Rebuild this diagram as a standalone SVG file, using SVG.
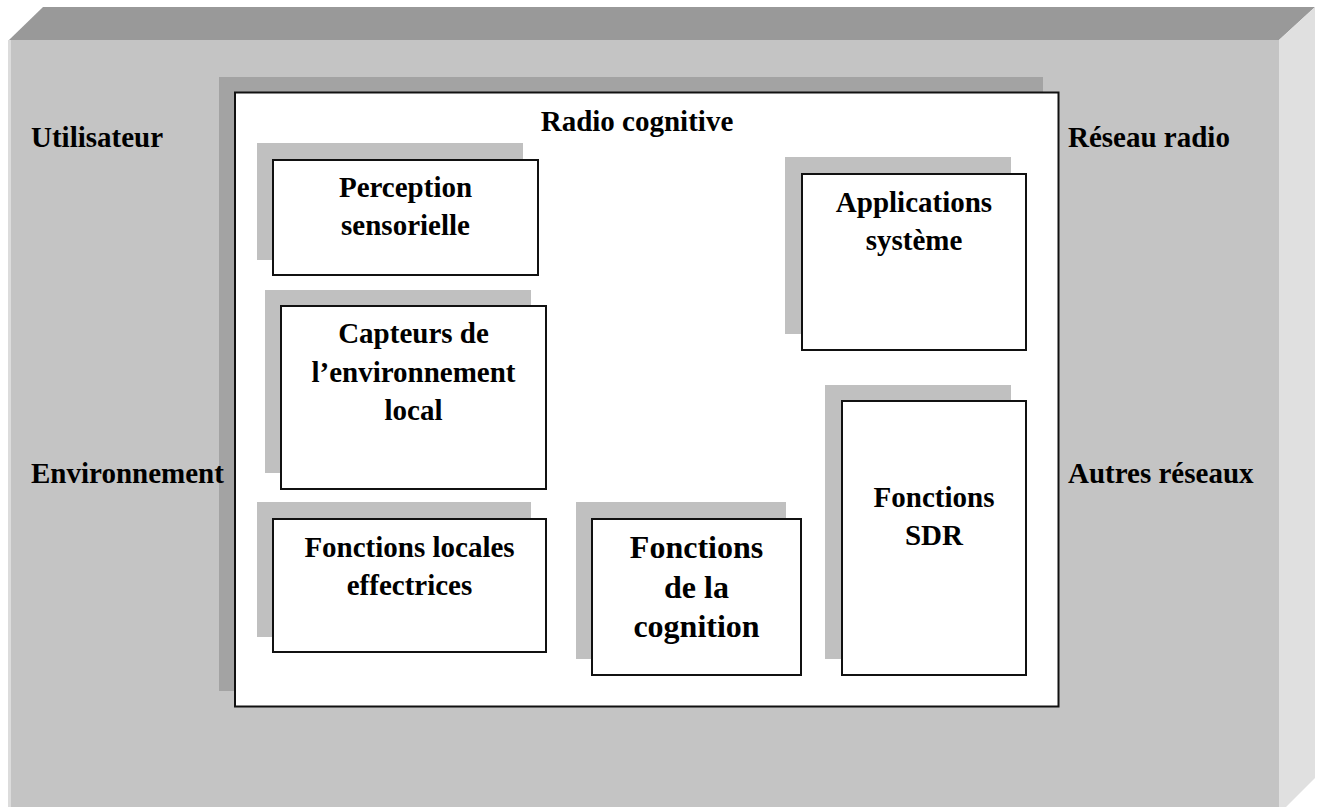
<svg xmlns="http://www.w3.org/2000/svg" width="1321" height="807" viewBox="0 0 1321 807">
<style>
text{font-family:"Liberation Serif","Times New Roman",serif;font-weight:bold;font-size:29px;fill:#000}
.c{text-anchor:middle}
.box{fill:#fff;stroke:#111;stroke-width:2}
.sh{fill:#c0c0c0}
</style>
<rect width="1321" height="807" fill="#fff"/>
<g id="enclosure">
<polygon points="9,40 43,7 1315,7 1279,40" fill="#999"/>
<polygon points="1279,40 1315,7 1315,778 1279,814" fill="#e0e0e0"/>
<rect x="8" y="40" width="1271" height="767" fill="#c4c4c4"/>
<rect x="8" y="40" width="3" height="767" fill="#dcdcdc"/>
</g>
<g id="radio-cognitive">
<rect x="219" y="77" width="824" height="614" fill="#a3a3a3"/>
<rect class="box" x="235" y="92.5" width="823.5" height="614"/>
<text class="c" x="637" y="131">Radio cognitive</text>
</g>
<g id="outer-labels">
<text x="31" y="147">Utilisateur</text>
<text x="31" y="483">Environnement</text>
<text x="1068" y="147">Réseau radio</text>
<text x="1068" y="483">Autres réseaux</text>
</g>
<g id="perception">
<rect class="sh" x="257" y="143" width="266" height="117"/>
<rect class="box" x="273" y="160" width="265" height="115"/>
<text class="c" x="405.5" y="197">Perception</text>
<text class="c" x="405.5" y="235">sensorielle</text>
</g>
<g id="capteurs">
<rect class="sh" x="265" y="290" width="266" height="183"/>
<rect class="box" x="281" y="306" width="265" height="183"/>
<text class="c" x="413.5" y="343">Capteurs de</text>
<text class="c" x="413.5" y="382">l’environnement</text>
<text class="c" x="413.5" y="420">local</text>
</g>
<g id="fonctions-locales">
<rect class="sh" x="257" y="502" width="274" height="135"/>
<rect class="box" x="273" y="519" width="273" height="133"/>
<text class="c" x="409.5" y="557">Fonctions locales</text>
<text class="c" x="409.5" y="595">effectrices</text>
</g>
<g id="cognition">
<rect class="sh" x="576" y="502" width="210" height="157"/>
<rect class="box" x="592" y="519" width="209" height="156"/>
<text class="c" x="696.5" y="558" style="font-size:32px">Fonctions</text>
<text class="c" x="696.5" y="598" style="font-size:32px">de la</text>
<text class="c" x="696.5" y="637" style="font-size:32px">cognition</text>
</g>
<g id="applications">
<rect class="sh" x="785" y="157" width="226" height="177"/>
<rect class="box" x="802" y="174" width="224" height="176"/>
<text class="c" x="914" y="212">Applications</text>
<text class="c" x="914" y="250">système</text>
</g>
<g id="sdr">
<rect class="sh" x="825" y="385" width="186" height="274"/>
<rect class="box" x="842" y="401" width="184" height="274"/>
<text class="c" x="934" y="507">Fonctions</text>
<text class="c" x="934" y="545">SDR</text>
</g>
<g id="connectors"/>
</svg>
